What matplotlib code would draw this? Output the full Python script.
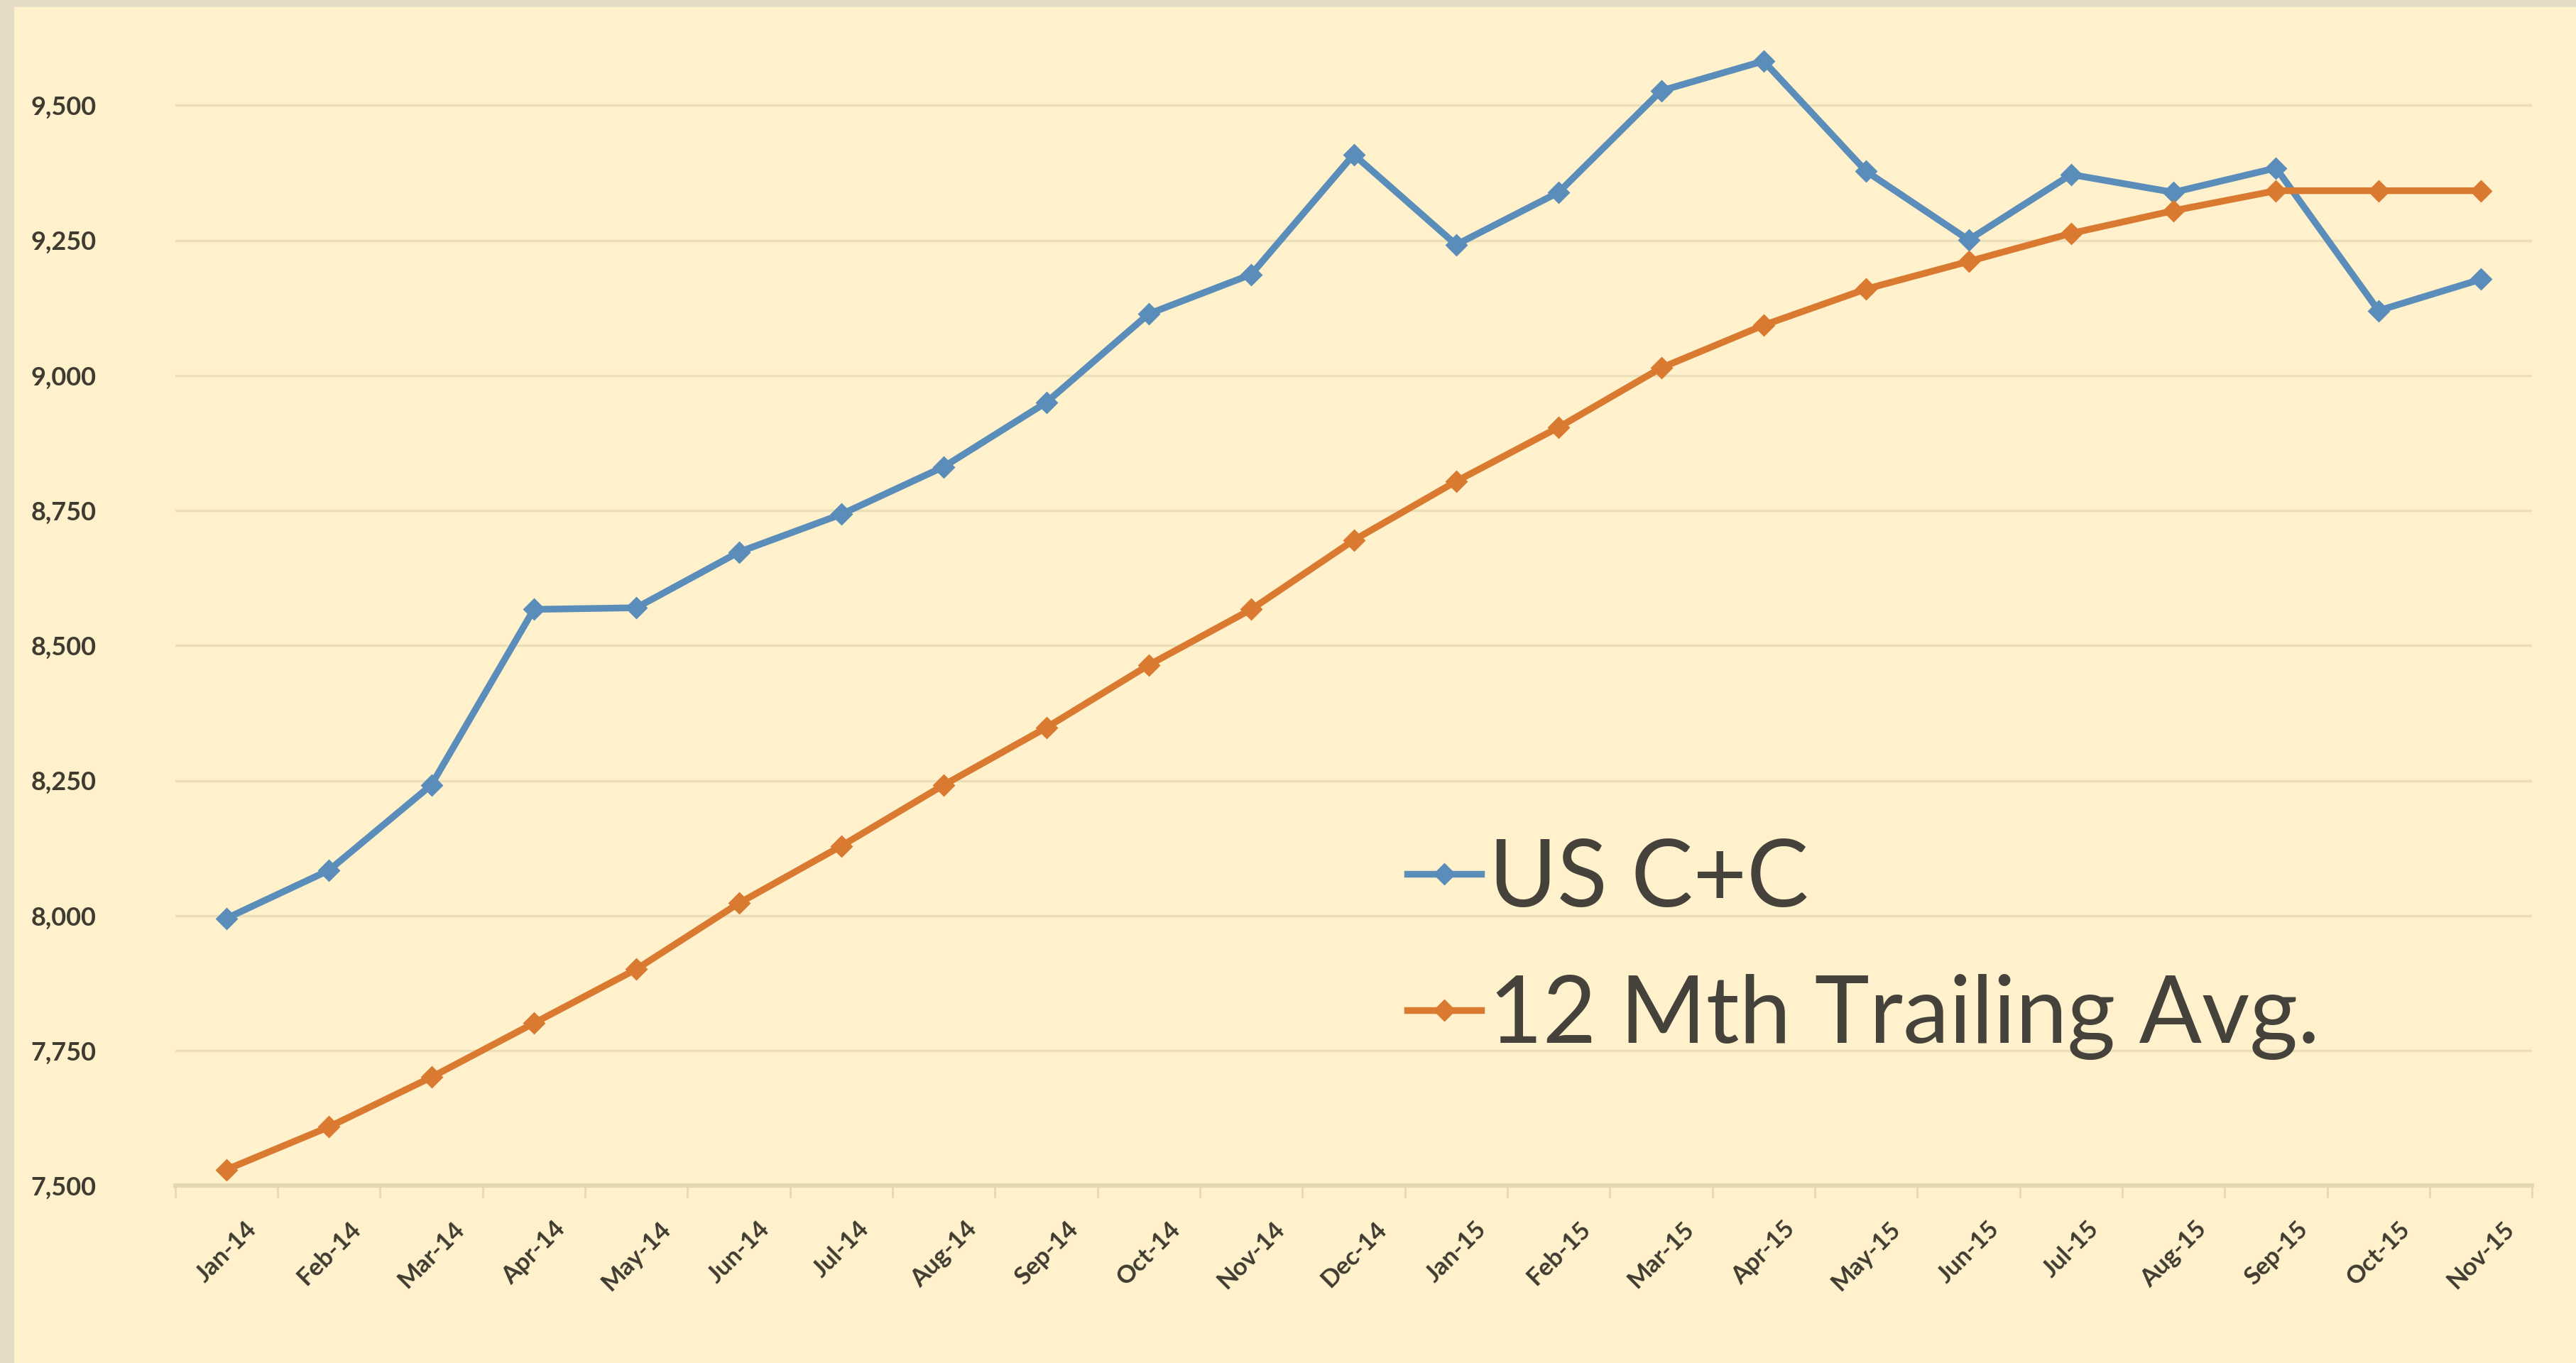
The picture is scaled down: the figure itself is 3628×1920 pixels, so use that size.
import numpy as np
import matplotlib.pyplot as plt
from matplotlib.ticker import FuncFormatter
from matplotlib.patches import Rectangle

months = ['Jan-14', 'Feb-14', 'Mar-14', 'Apr-14', 'May-14', 'Jun-14', 'Jul-14', 'Aug-14',
          'Sep-14', 'Oct-14', 'Nov-14', 'Dec-14', 'Jan-15', 'Feb-15', 'Mar-15', 'Apr-15',
          'May-15', 'Jun-15', 'Jul-15', 'Aug-15', 'Sep-15', 'Oct-15', 'Nov-15']
us_cc = [7995, 8084, 8242, 8567, 8570, 8673, 8743, 8831, 8950, 9114, 9187, 9409,
         9242, 9339, 9527, 9582, 9378, 9251, 9372, 9339, 9384, 9120, 9178]
trailing = [7530, 7609, 7701, 7801, 7901, 8023, 8129, 8242, 8348, 8464, 8567, 8695,
            8804, 8904, 9014, 9093, 9160, 9211, 9263, 9305, 9342, 9342, 9342]
yticks = [7500, 7750, 8000, 8250, 8500, 8750, 9000, 9250, 9500]

bg = '#FEF1CB'
txt = '#3f3b30'

plt.rcParams['font.family'] = ['Lato', 'DejaVu Sans']
fig = plt.figure(figsize=(18.14, 9.6), dpi=200, facecolor=bg)
ax = fig.add_axes([0.068, 0.13, 0.915, 0.87], facecolor=bg)

x = np.arange(len(months))
ax.plot(x, us_cc, color='#5A8DBA', lw=3.4, marker='D', ms=7, label='US C+C', zorder=3)
ax.plot(x, trailing, color='#D97A30', lw=3.4, marker='D', ms=7, label='12 Mth Trailing Avg.', zorder=3)

ax.set_xlim(-0.5, len(months) - 0.5)
ax.set_ylim(7500, 9695)
ax.set_yticks(yticks)
ax.yaxis.set_major_formatter(FuncFormatter(lambda v, p: f'{int(v):,}'))
ax.grid(axis='y', color='#EADFB8', lw=1.2, zorder=0)

ax.set_xticks(x)
ax.set_xticklabels(months, rotation=45, ha='center', va='top', fontsize=12.5,
                   fontweight='bold', color=txt)
ax.set_xticks(np.arange(len(months) + 1) - 0.5, minor=True)
ax.tick_params(axis='x', which='major', length=0, pad=16)
ax.tick_params(axis='x', which='minor', length=6, color='#E6DAB2', width=1)
ax.tick_params(axis='y', length=0, pad=40, labelsize=13, labelcolor=txt)
for t in ax.get_yticklabels():
    t.set_fontweight('bold')

for s in ['top', 'right', 'left']:
    ax.spines[s].set_visible(False)
ax.spines['bottom'].set_color('#E3D8B0')
ax.spines['bottom'].set_linewidth(2.2)

leg = ax.legend(loc='upper left', bbox_to_anchor=(0.507, 0.325), frameon=False,
                fontsize=47, handlelength=0.8, handletextpad=0.08, labelspacing=0.55,
                borderaxespad=0)
for t in leg.get_texts():
    t.set_color('#44423a')

# frame edges of the screenshot
fig.patches.append(Rectangle((0, 0), 0.005, 1, transform=fig.transFigure,
                             color='#E4DCC4', zorder=0))
fig.patches.append(Rectangle((0, 0.996), 1, 0.004, transform=fig.transFigure,
                             color='#E4DCC4', zorder=0))

fig.savefig('out.png', dpi=200, facecolor=bg)
